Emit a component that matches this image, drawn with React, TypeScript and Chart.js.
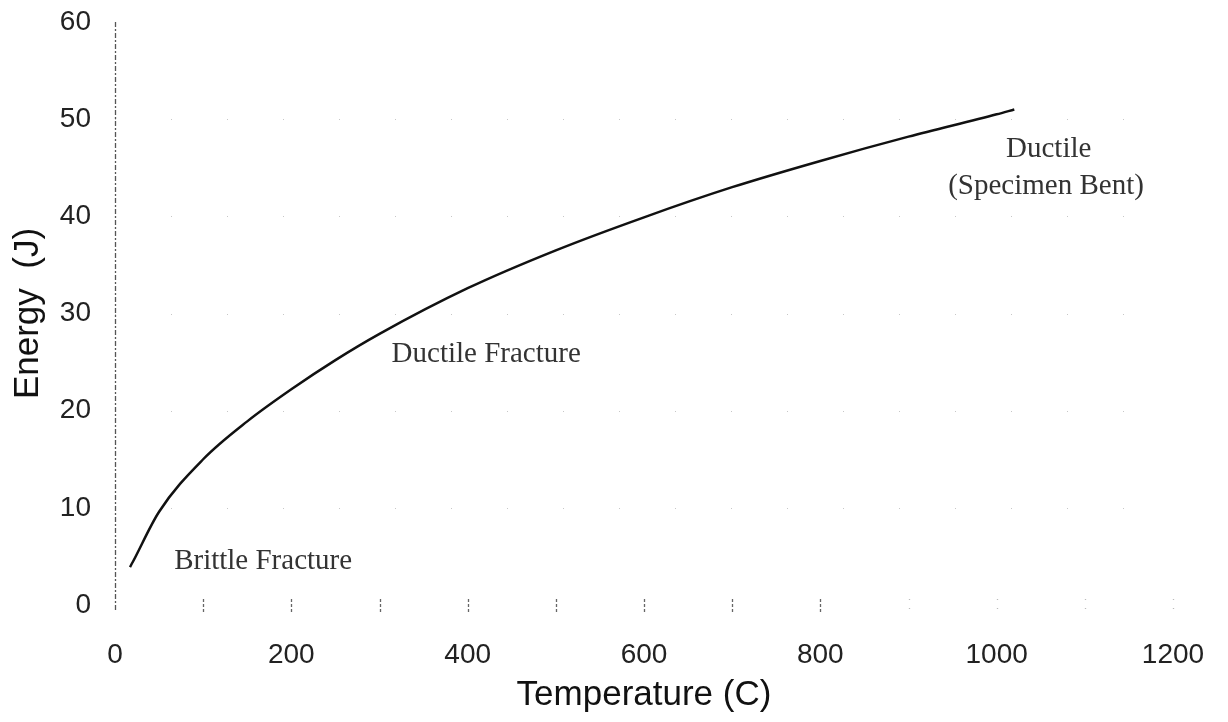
import React, { useEffect, useRef } from "react";
import { Chart, registerables } from "chart.js";

Chart.register(...registerables);

// Curve data
const temperatures = [17, 20, 50, 100, 150, 200, 250, 300, 400, 500, 600, 700, 800, 900, 1000, 1020];
const energies = [3.9, 4.4, 9.6, 15.0, 18.9, 22.2, 25.2, 27.9, 32.6, 36.5, 39.9, 43.0, 45.7, 48.2, 50.5, 51.0];

// Axis ranges / ticks
const xTickValues = [0, 100, 200, 300, 400, 500, 600, 700, 800, 900, 1000, 1100, 1200];
const yTickValues = [0, 10, 20, 30, 40, 50, 60];

// Annotation labels and their data-space positions
const noteTexts = ["Brittle Fracture", "Ductile Fracture", "Ductile", "(Specimen Bent)"];
const noteX = [168, 421, 1059, 1056];
const noteY = [4.5, 25.8, 46.9, 43.1];

const decorPlugin = {
  id: "decor",
  beforeDatasetsDraw(chart: any) {
    const { ctx } = chart;
    const xs = chart.scales.x;
    const ys = chart.scales.y;
    ctx.save();
    // faint dotted horizontal grid lines
    ctx.strokeStyle = "rgba(0,0,0,0.22)";
    ctx.lineWidth = 1;
    ctx.setLineDash([1, 55]);
    yTickValues.forEach((v) => {
      if (v === 0 || v === 60) return;
      const py = Math.round(ys.getPixelForValue(v)) + 0.5;
      ctx.beginPath();
      ctx.moveTo(xs.left, py);
      ctx.lineTo(xs.right, py);
      ctx.stroke();
    });
    // dashed left axis line
    const px0 = Math.round(xs.getPixelForValue(0)) + 0.5;
    ctx.strokeStyle = "#555";
    ctx.lineWidth = 1.3;
    ctx.setLineDash([5, 2, 2, 2]);
    ctx.beginPath();
    ctx.moveTo(px0, ys.top);
    ctx.lineTo(px0, ys.bottom + 6);
    ctx.stroke();
    // short tick marks along the bottom
    const py0 = ys.getPixelForValue(0);
    xTickValues.forEach((v) => {
      if (v === 0) return;
      const px = Math.round(xs.getPixelForValue(v)) + 0.5;
      ctx.strokeStyle = v <= 800 ? "#666" : "#bbb";
      ctx.setLineDash(v <= 800 ? [3, 2] : [1, 8]);
      ctx.beginPath();
      ctx.moveTo(px, py0 - 6);
      ctx.lineTo(px, py0 + 8);
      ctx.stroke();
    });
    ctx.restore();
  },
  afterDatasetsDraw(chart: any) {
    const { ctx } = chart;
    const xs = chart.scales.x;
    const ys = chart.scales.y;
    ctx.save();
    ctx.fillStyle = "#333";
    ctx.font = "29px 'Liberation Serif', 'Times New Roman', serif";
    ctx.textAlign = "center";
    ctx.textBaseline = "middle";
    noteTexts.forEach((t, i) => {
      ctx.fillText(t, xs.getPixelForValue(noteX[i]), ys.getPixelForValue(noteY[i]));
    });
    ctx.restore();
  },
};

export default function App() {
  const canvasRef = useRef<HTMLCanvasElement | null>(null);

  useEffect(() => {
    const canvas = canvasRef.current;
    if (!canvas) return;
    const chart = new Chart(canvas, {
      type: "line",
      data: {
        datasets: [
          {
            data: temperatures.map((t, i) => ({ x: t, y: energies[i] })),
            borderColor: "#111",
            borderWidth: 2.5,
            pointRadius: 0,
            fill: false,
            cubicInterpolationMode: "monotone",
          },
        ],
      },
      options: {
        animation: false,
        responsive: false,
        maintainAspectRatio: false,
        layout: { padding: { left: 0, right: 55, top: 22, bottom: 0 } },
        plugins: {
          legend: { display: false },
          tooltip: { enabled: false },
        },
        scales: {
          x: {
            type: "linear",
            min: 0,
            max: 1200,
            afterFit: (s: any) => {
              s.height = 117;
              s.paddingLeft = 0;
              s.paddingRight = 0;
            },
            afterBuildTicks: (s: any) => {
              s.ticks = xTickValues.filter((v) => v % 200 === 0).map((v) => ({ value: v }));
            },
            grid: { display: false, drawTicks: false },
            border: { display: false },
            ticks: {
              autoSkip: false,
              maxRotation: 0,
              padding: 33,
              color: "#222",
              font: { family: "'Liberation Sans', Arial, sans-serif", size: 28 },
              callback: (v: any) => String(v),
            },
            title: {
              display: true,
              text: "Temperature (C)",
              color: "#111",
              font: { family: "'Liberation Sans', Arial, sans-serif", size: 35 },
              padding: { top: 0, bottom: 6 },
            },
          },
          y: {
            type: "linear",
            min: 0,
            max: 60,
            afterFit: (s: any) => {
              s.width = 115;
              s.paddingTop = 0;
              s.paddingBottom = 0;
            },
            afterBuildTicks: (s: any) => {
              s.ticks = yTickValues.map((v) => ({ value: v }));
            },
            grid: { display: false, drawTicks: false },
            border: { display: false },
            ticks: {
              padding: 24,
              color: "#222",
              font: { family: "'Liberation Sans', Arial, sans-serif", size: 28 },
              callback: (v: any) => String(v),
            },
            title: {
              display: true,
              text: "Energy  (J)",
              color: "#111",
              font: { family: "'Liberation Sans', Arial, sans-serif", size: 35 },
              padding: { top: 7, bottom: 0 },
            },
          },
        },
      },
      plugins: [decorPlugin],
    });
    return () => chart.destroy();
  }, []);

  return (
    <div style={{ position: "absolute", left: 0, top: 0, width: 1228, height: 722, background: "#fff" }}>
      <canvas ref={canvasRef} width={1228} height={722} style={{ display: "block" }} />
    </div>
  );
}
